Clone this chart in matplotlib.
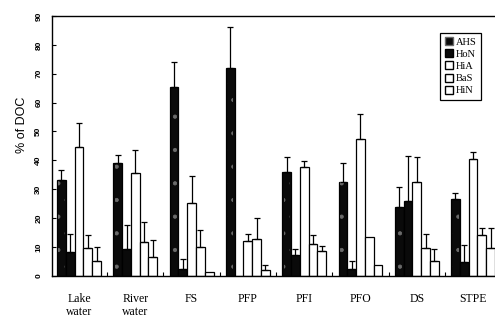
import numpy as np
import matplotlib
matplotlib.use('Agg')
import matplotlib.pyplot as plt
from matplotlib.patches import Patch

"""Grouped bar chart of DOC fractions per water / sample type"""

sites = ['Lake\nwater', 'River\nwater', 'FS', 'PFP', 'PFI', 'PFO', 'DS', 'STPE']
fractions = ['AHS', 'HoN', 'HiA', 'BaS', 'HiN']

# mean % of DOC per fraction, one value per site
ahs = [33.2, 39.0, 65.3, 72.0, 36.1, 32.6, 24.0, 26.5]
hon = [8.3, 9.2, 2.3, 0.0, 7.3, 2.3, 26.0, 4.7]
hia = [44.8, 35.8, 25.2, 12.2, 37.6, 47.3, 32.6, 40.4]
bas = [9.8, 11.7, 9.9, 12.7, 11.0, 13.6, 9.6, 14.2]
hin = [5.2, 6.5, 1.3, 2.1, 8.8, 3.8, 5.3, 9.8]

# upper error (one-sided)
ahs_err = [3.5, 2.9, 8.9, 14.1, 4.9, 6.6, 6.9, 2.3]
hon_err = [6.2, 8.4, 3.6, 0.0, 1.9, 3.0, 15.5, 6.0]
hia_err = [8.2, 7.8, 9.5, 2.2, 2.3, 8.8, 8.7, 2.6]
bas_err = [4.2, 6.8, 6.0, 7.2, 3.2, 0.0, 4.8, 2.3]
hin_err = [4.9, 6.0, 0.0, 1.7, 1.6, 0.0, 3.9, 6.7]

values = [ahs, hon, hia, bas, hin]
errors = [ahs_err, hon_err, hia_err, bas_err, hin_err]

plt.rcParams['hatch.linewidth'] = 0.6

fig = plt.figure(figsize=(4.95, 3.25), dpi=100)
ax = fig.add_axes([0.105, 0.151, 0.895, 0.80])

x = np.arange(len(sites))
width = 0.156
offsets = (np.arange(5) - 2) * width

for k, (vals, errs) in enumerate(zip(values, errors)):
    pos = x + offsets[k]
    face = '#0a0a0a' if k <= 1 else 'white'
    ax.bar(pos, vals, width, color=face, edgecolor='black', linewidth=0.9, zorder=2)
    if k == 0:
        # speckled look of the humic fraction
        ax.bar(pos, vals, width * 0.7, color='none', edgecolor='#6a6a6a',
               hatch='.', linewidth=0, zorder=3)
    err = np.array(errs)
    keep = err > 0
    ax.errorbar(pos[keep], np.array(vals)[keep],
                yerr=[np.zeros(keep.sum()), err[keep]],
                fmt='none', ecolor='black', elinewidth=0.9, capsize=2, capthick=0.9, zorder=4)

ax.set_xlim(-0.48, 7.39)
ax.set_ylim(0, 90)
ax.set_yticks(np.arange(0, 91, 10))
ax.set_yticklabels([str(v) for v in range(0, 91, 10)], rotation=90, va='center',
                   fontsize=6, fontweight='bold', family='Liberation Sans')
ax.tick_params(axis='y', direction='in', length=3, width=0.8, pad=7)

ax.set_xticks(x)
ax.set_xticklabels(sites, family='Liberation Serif', fontsize=8.5, linespacing=1.2)
ax.set_xticks(x[:-1] + 0.5, minor=True)
ax.tick_params(axis='x', which='major', length=0, pad=12)
ax.tick_params(axis='x', which='minor', direction='in', length=3, width=0.8)

ax.spines['right'].set_visible(False)
for s in ['left', 'bottom', 'top']:
    ax.spines[s].set_linewidth(1.0)

ax.set_ylabel('% of DOC', family='Liberation Sans', fontsize=9)
ax.yaxis.set_label_coords(-0.055, 0.58)

handles = [
    Patch(facecolor='#0a0a0a', edgecolor='#6a6a6a', hatch='.', label='AHS'),
    Patch(facecolor='#0a0a0a', edgecolor='black', label='HoN'),
    Patch(facecolor='white', edgecolor='black', label='HiA'),
    Patch(facecolor='white', edgecolor='black', label='BaS'),
    Patch(facecolor='white', edgecolor='black', label='HiN'),
]
leg = ax.legend(handles=handles, loc='upper right', bbox_to_anchor=(0.98, 0.955),
                prop={'family': 'Liberation Serif', 'size': 7.5},
                handlelength=0.8, handleheight=0.8, handletextpad=0.3,
                labelspacing=0.25, borderpad=0.4, fancybox=False, framealpha=1)
leg.get_frame().set_edgecolor('black')
leg.get_frame().set_linewidth(0.9)

fig.savefig('out.png', dpi=100)
